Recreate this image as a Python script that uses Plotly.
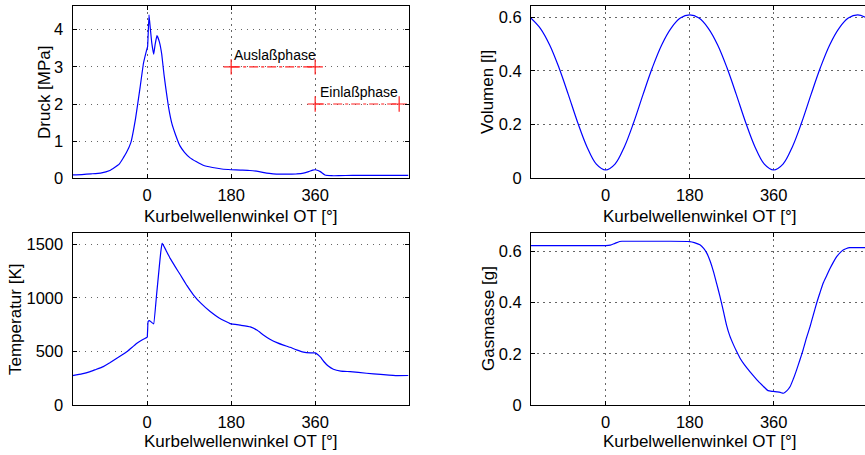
import plotly.graph_objects as go

# ---------------- data ----------------
p_deg = [-160, -140, -120, -100, -80, -60, -45, -35, -25, -15, -8, -2, 0, 1, 4, 7, 10, 14, 17, 21,
         26, 31, 36, 40, 46, 53, 60, 70, 80, 92, 105, 120, 140, 160, 180, 200, 220, 240, 256, 270,
         285, 300, 320, 335, 346, 355, 360, 366, 371, 381, 395, 410, 440, 480, 520, 560]
p_val = [0.09, 0.10, 0.12, 0.14, 0.21, 0.38, 0.68, 0.96, 1.60, 2.46, 3.09, 3.41, 3.50, 3.55, 4.40, 4.00,
         3.63, 3.34, 3.60, 3.84, 3.68, 3.36, 2.80, 2.42, 1.90, 1.47, 1.20, 0.88, 0.70, 0.55, 0.45, 0.35,
         0.29, 0.25, 0.23, 0.22, 0.21, 0.18, 0.14, 0.12, 0.11, 0.11, 0.12, 0.14, 0.18, 0.22, 0.23, 0.21,
         0.18, 0.09, 0.07, 0.07, 0.08, 0.08, 0.08, 0.08]

v_deg = [-160, -140, -120, -100, -80, -60, -40, -20, 0, 20, 40, 60, 80, 100, 120, 140, 160, 180,
         200, 220, 240, 260, 280, 300, 320, 340, 360, 380, 400, 420, 440, 460, 480, 500, 520, 540, 560]
v_val = [0.597, 0.559, 0.497, 0.412, 0.312, 0.208, 0.117, 0.053, 0.031, 0.053, 0.117, 0.208, 0.312,
         0.412, 0.497, 0.559, 0.597, 0.609, 0.597, 0.559, 0.497, 0.412, 0.312, 0.208, 0.117, 0.053,
         0.031, 0.053, 0.117, 0.208, 0.312, 0.412, 0.497, 0.559, 0.597, 0.609, 0.597]

t_deg = [-160, -140, -122, -110, -94, -80, -65, -55, -43, -32, -22, -12, -4, 0, 1, 2, 5, 10, 14, 20,
         26, 29, 32, 40, 49, 60, 71, 85, 99, 115, 135, 155, 178, 200, 221, 235, 249, 263, 278, 292,
         306, 320, 335, 350, 360, 366, 372, 378, 388, 399, 415, 435, 470, 500, 535, 560]
t_val = [276, 292, 313, 333, 360, 395, 438, 465, 500, 540, 578, 606, 624, 633, 700, 779, 788, 770, 757, 1020,
         1290, 1420, 1509, 1445, 1369, 1290, 1214, 1115, 1028, 950, 872, 810, 760, 745, 730, 700, 655, 615, 583, 560,
         540, 515, 494, 488, 488, 470, 445, 410, 365, 335, 318, 313, 298, 288, 276, 277]

m_deg = [-160, -100, -40, 0, 10, 20, 30, 35, 60, 120, 180, 190, 202, 210, 217, 224, 231, 238, 245, 252,
         259, 266, 274, 281, 288, 298, 309, 320, 331, 340, 348, 359, 367, 374, 381, 388, 395, 402, 409, 416,
         423, 430, 438, 445, 452, 459, 466, 474, 481, 488, 495, 502, 509, 516, 523, 540, 556]
m_val = [0.621, 0.621, 0.621, 0.621, 0.623, 0.630, 0.637, 0.638, 0.638, 0.638, 0.637, 0.633, 0.624, 0.610,
         0.591, 0.560, 0.520, 0.472, 0.423, 0.368, 0.312, 0.270, 0.235, 0.208, 0.183, 0.156, 0.131, 0.108,
         0.086, 0.070, 0.057, 0.054, 0.052, 0.050, 0.047, 0.056, 0.072, 0.102, 0.137, 0.175, 0.215, 0.260,
         0.306, 0.352, 0.397, 0.437, 0.475, 0.506, 0.533, 0.557, 0.578, 0.593, 0.604, 0.610, 0.613, 0.613, 0.613]

aus_deg = [180, 360]
aus_val = [3, 3]
ein_deg = [360, 540]
ein_val = [2, 2]

x_ticks = [0, 180, 360]
x_title = "Kurbelwellenwinkel OT [°]"

# ---------------- figure ----------------
FONT = "Liberation Sans, Arial, Helvetica, sans-serif"
W, H = 865, 455
BLUE = "#0000ff"
RED = "#ff2020"

fig = go.Figure()
fig.add_trace(go.Scatter(x=p_deg, y=p_val, mode="lines", line=dict(color=BLUE, width=1.2, shape="spline", smoothing=0.3),
                         xaxis="x", yaxis="y", showlegend=False))
fig.add_trace(go.Scatter(x=aus_deg, y=aus_val, mode="lines+markers",
                         line=dict(color=RED, width=1.2, dash="dashdot"),
                         marker=dict(symbol="cross-thin", size=11, line=dict(color=RED, width=1.2)),
                         xaxis="x", yaxis="y", showlegend=False))
fig.add_trace(go.Scatter(x=ein_deg, y=ein_val, mode="lines+markers",
                         line=dict(color=RED, width=1.2, dash="dashdot"),
                         marker=dict(symbol="cross-thin", size=11, line=dict(color=RED, width=1.2)),
                         xaxis="x", yaxis="y", showlegend=False))
fig.add_trace(go.Scatter(x=v_deg, y=v_val, mode="lines", line=dict(color=BLUE, width=1.2, shape="spline"),
                         xaxis="x2", yaxis="y2", showlegend=False))
fig.add_trace(go.Scatter(x=t_deg, y=t_val, mode="lines", line=dict(color=BLUE, width=1.2, shape="spline", smoothing=0.25),
                         xaxis="x3", yaxis="y3", showlegend=False))
fig.add_trace(go.Scatter(x=m_deg, y=m_val, mode="lines", line=dict(color=BLUE, width=1.2, shape="spline", smoothing=0.6),
                         xaxis="x4", yaxis="y4", showlegend=False))

xl = [72.5 / W, 408.5 / W]
xr = [531.0 / W, 1.0]
yt = [(H - 178.3) / H, (H - 6.3) / H]
yb = [(H - 405.3) / H, (H - 233.3) / H]


def ax(domain, rng, tickvals, anchor, mirror="ticks", standoff=4):
    return dict(domain=domain, range=rng, tickvals=tickvals, anchor=anchor, automargin=False,
                showline=True, linecolor="black", linewidth=1, mirror=mirror,
                ticks="inside", ticklen=4, tickcolor="black", tickwidth=1,
                showgrid=True, gridcolor="#666666", gridwidth=1, griddash="1.5px,4.5px",
                zeroline=False, ticklabelstandoff=standoff,
                tickfont=dict(family=FONT, size=16.5, color="black"))


xr_max = -160 + (865 - 531.0) / (336.0 / 720.0)

fig.update_layout(
    width=W, height=H, autosize=False,
    margin=dict(l=0, r=0, t=0, b=0, pad=0, autoexpand=False),
    paper_bgcolor="white", plot_bgcolor="white",
    font=dict(family=FONT, color="black"),
    xaxis=ax(xl, [-160, 560], x_ticks, "y", standoff=2),
    yaxis=ax(yt, [0, 4.63], [0, 1, 2, 3, 4], "x", standoff=5),
    xaxis2=ax(xr, [-160, xr_max], x_ticks, "y2", standoff=2),
    yaxis2=ax(yt, [0, 0.641], [0, 0.2, 0.4, 0.6], "x2", mirror=False, standoff=5),
    xaxis3=ax(xl, [-160, 560], x_ticks, "y3", standoff=2),
    yaxis3=ax(yb, [0, 1600], [0, 500, 1000, 1500], "x3", standoff=5),
    xaxis4=ax(xr, [-160, xr_max], x_ticks, "y4", standoff=2),
    yaxis4=ax(yb, [0, 0.669], [0, 0.2, 0.4, 0.6], "x4", mirror=False, standoff=5),
)
fig.layout.yaxis2.ticktext = ["0", "0.2", "0.4", "0.6"]
fig.layout.yaxis4.ticktext = ["0", "0.2", "0.4", "0.6"]

TF = dict(family=FONT, size=17, color="black")
ann = []
# x-axis titles
for xc, yc in [(240.5, 216), (699.5, 216), (240.5, 441), (699.5, 441)]:
    ann.append(dict(text=x_title, x=xc / W, y=(H - yc) / H, xref="paper", yref="paper",
                    xanchor="center", yanchor="middle", showarrow=False, font=TF))
# y-axis titles
for txt, xc, yc in [("Druck [MPa]", 45, 92), ("Volumen [l]", 488, 92),
                    ("Temperatur [K]", 15, 319), ("Gasmasse [g]", 488, 319)]:
    ann.append(dict(text=txt, x=xc / W, y=(H - yc) / H, xref="paper", yref="paper", textangle=-90,
                    xanchor="center", yanchor="middle", showarrow=False, font=TF))
# phase labels
ann.append(dict(text="Auslaßphase", x=182, y=3.32, xref="x", yref="y", xanchor="left", yanchor="middle",
                showarrow=False, font=dict(family=FONT, size=14, color="black")))
ann.append(dict(text="Einlaßphase", x=367, y=2.33, xref="x", yref="y", xanchor="left", yanchor="middle",
                showarrow=False, font=dict(family=FONT, size=14, color="black")))
fig.update_layout(annotations=ann)

fig.write_html("out.html")
